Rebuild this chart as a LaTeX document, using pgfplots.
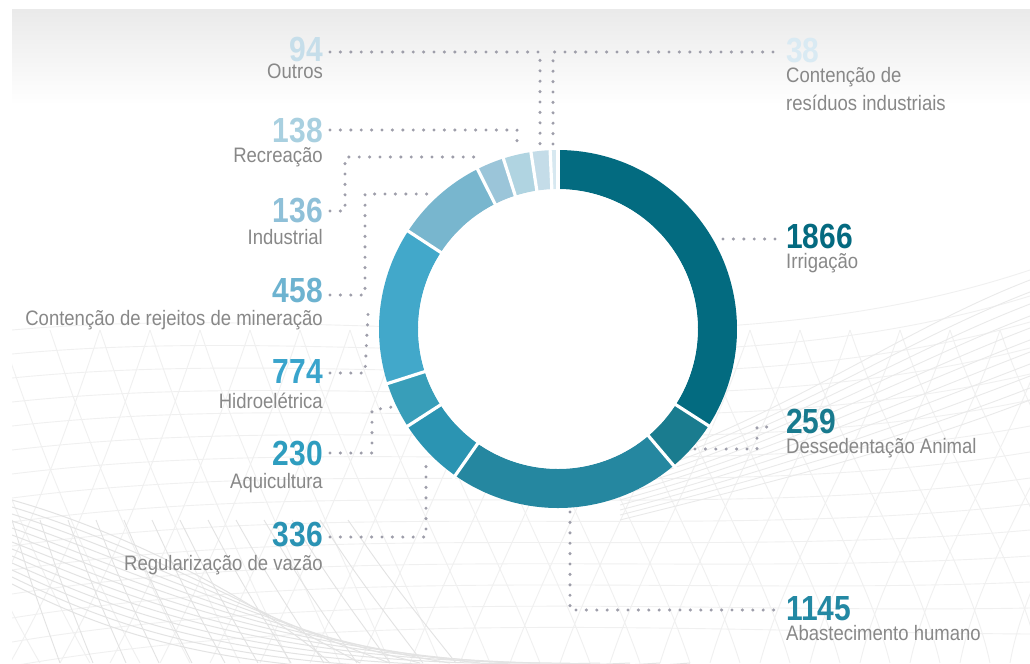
\documentclass[border=0pt]{standalone}
\usepackage{pgfplots}
\usepackage{pgfplotstable}
\pgfplotsset{compat=1.18}
\usepackage{fontspec}
\setmainfont{Liberation Sans}[FakeStretch=0.885]
\newfontfamily\numfont{Liberation Sans}[FakeStretch=0.86]

\definecolor{c1}{HTML}{036B80}
\definecolor{c2}{HTML}{1A7C8F}
\definecolor{c3}{HTML}{2587A0}
\definecolor{c4}{HTML}{2B94B2}
\definecolor{c5}{HTML}{389EB9}
\definecolor{c6}{HTML}{42A8CA}
\definecolor{c7}{HTML}{78B6CE}
\definecolor{c8}{HTML}{9BC5D9}
\definecolor{c9}{HTML}{B0D4E1}
\definecolor{c10}{HTML}{C4DCE8}
\definecolor{c11}{HTML}{D7E8F0}
\definecolor{n1}{HTML}{046A80}
\definecolor{n2}{HTML}{187A8E}
\definecolor{n3}{HTML}{2388A3}
\definecolor{n4}{HTML}{2A93B4}
\definecolor{n5}{HTML}{2E9DBF}
\definecolor{n6}{HTML}{39A4CC}
\definecolor{n7}{HTML}{6DB3D0}
\definecolor{n8}{HTML}{8FC0D8}
\definecolor{n9}{HTML}{A9D0E0}
\definecolor{n10}{HTML}{C6DEEA}
\definecolor{n11}{HTML}{D9EAF3}
\definecolor{lbl}{HTML}{888888}
\definecolor{ldot}{HTML}{9E9EAA}
\definecolor{bgtop}{HTML}{EAEAEA}
\definecolor{mesh}{HTML}{F0F0F0}
\definecolor{meshd}{HTML}{E3E3E3}
\definecolor{meshr}{HTML}{EAEAEA}

\tikzset{
  leader/.style={color=ldot, line width=3.4bp, line cap=round, dash pattern=on 0bp off 10.4bp, mark=none},
  num/.style={font=\numfont\bfseries\fontsize{35}{36}\selectfont, inner sep=0pt, text height=25bp, text depth=0pt},
  lab/.style={font=\fontsize{21}{24}\selectfont, color=lbl, inner sep=0pt, text height=15bp, text depth=3bp},
}

\pgfplotstableread[col sep=comma]{
label,value,color
Irrigação,1866,c1
Dessedentação Animal,259,c2
Abastecimento humano,1145,c3
Regularização de vazão,336,c4
Aquicultura,230,c5
Hidroelétrica,774,c6
Contenção de rejeitos de mineração,458,c7
Industrial,136,c8
Recreação,138,c9
Outros,94,c10
Contenção de resíduos industriais,38,c11
}\datatable

\pgfplotstablegetrowsof{\datatable}
\pgfmathtruncatemacro\nrows{\pgfplotsretval-1}
\def\total{0}
\pgfplotsforeachungrouped \i in {0,...,\nrows}{%
  \pgfplotstablegetelem{\i}{value}\of\datatable
  \pgfmathsetmacro\total{\total+\pgfplotsretval}%
  \global\let\total\total
}
\def\curang{90}
\pgfplotsforeachungrouped \i in {0,...,\nrows}{%
  \pgfplotstablegetelem{\i}{value}\of\datatable
  \pgfmathsetmacro\nextang{\curang-\pgfplotsretval/\total*360}%
  \expandafter\xdef\csname start\i\endcsname{\curang}%
  \expandafter\xdef\csname end\i\endcsname{\nextang}%
  \global\let\curang\nextang
}

\begin{document}
\begin{tikzpicture}
\begin{axis}[
  scale only axis, width=1030bp, height=663bp,
  xmin=0, xmax=1030, ymin=0, ymax=663, y dir=reverse,
  hide axis, clip=true,
]
% background
\fill[white] (axis cs:0,0) rectangle (axis cs:1030,663);
\shade[top color=bgtop, bottom color=white] (axis cs:12,10) rectangle (axis cs:1030,105);

% faint decorative mesh
\begin{scope}
\clip (axis cs:12,10) rectangle (axis cs:1030,663);
\pgfplotsinvokeforeach{0,...,14}{
  \draw[mesh, line width=0.9bp] (axis cs:12,{330+#1*24}) .. controls (axis cs:350,{300+#1*22}) and (axis cs:700,{380+#1*18}) .. (axis cs:1030,{270+#1*26});
}
\pgfplotsinvokeforeach{0,...,24}{
  \draw[mesh, line width=0.9bp] (axis cs:{-100+#1*50},330) .. controls (axis cs:{-60+#1*50},450) and (axis cs:{-20+#1*52},560) .. (axis cs:{40+#1*50},663);
  \draw[mesh, line width=0.9bp] (axis cs:{100+#1*50},330) .. controls (axis cs:{60+#1*50},450) and (axis cs:{20+#1*48},560) .. (axis cs:{-40+#1*50},663);
}
\pgfplotsinvokeforeach{0,...,12}{
  \draw[meshd, line width=1bp] (axis cs:12,{500+#1*7}) .. controls (axis cs:120,{530+#1*9}) and (axis cs:260,{600+#1*8}) .. (axis cs:{330+#1*30},663);
  \draw[meshd, line width=0.9bp] (axis cs:{12+#1*28},520) .. controls (axis cs:{30+#1*30},580) .. (axis cs:{60+#1*33},663);
}
\pgfplotsinvokeforeach{0,...,10}{
  \draw[meshr, line width=0.9bp] (axis cs:1030,{280+#1*12}) .. controls (axis cs:900,{330+#1*12}) and (axis cs:780,{420+#1*6}) .. (axis cs:620,{470+#1*5});
}
\end{scope}

% donut segments
\pgfplotsforeachungrouped \i in {0,...,\nrows}{%
  \pgfplotstablegetelem{\i}{color}\of\datatable
  \edef\cmd{\noexpand\addplot[draw=\pgfplotsretval, line width=39bp, domain=\csname end\i\endcsname:\csname start\i\endcsname, samples=100, no markers] ({558+159.5*cos(x)},{329-159.5*sin(x)});}%
  \cmd
}
% white gaps
\pgfplotsforeachungrouped \i in {0,...,\nrows}{%
  \edef\cmd{\noexpand\addplot[white, line width=3.2bp, domain=136:183, samples=2, no markers] ({558+x*cos(\csname start\i\endcsname)},{329-x*sin(\csname start\i\endcsname)});}%
  \cmd
}
% white centre
\fill[white] (axis cs:558,329) circle[radius=139.5bp];

% leader lines
\addplot[leader] coordinates {(330,52) (540,52) (540,145)};
\addplot[leader] coordinates {(773,52) (553,52) (553,145)};
\addplot[leader] coordinates {(330,130) (517,130) (517,148)};
\addplot[leader] coordinates {(330,211) (345,211) (345,157) (482,157)};
\addplot[leader] coordinates {(330,295) (365,295) (365,194) (433,194)};
\addplot[leader] coordinates {(330,373) (365,373) (368,314)};
\addplot[leader] coordinates {(330,453) (372,453) (372,410) (392,407)};
\addplot[leader] coordinates {(330,537) (426,537) (426,463)};
\addplot[leader] coordinates {(723,239) (778,239)};
\addplot[leader] coordinates {(695,449) (757,449) (757,427) (777,427)};
\addplot[leader] coordinates {(570,512) (570,610) (778,610)};

% left labels
\node[num, color=n10, anchor=base east] at (axis cs:323,62) {94};
\node[lab, anchor=base east] at (axis cs:323,79) {Outros};
\node[num, color=n9, anchor=base east] at (axis cs:323,142) {138};
\node[lab, anchor=base east] at (axis cs:323,162) {Recreação};
\node[num, color=n8, anchor=base east] at (axis cs:323,222) {136};
\node[lab, anchor=base east] at (axis cs:323,244) {Industrial};
\node[num, color=n7, anchor=base east] at (axis cs:323,302) {458};
\node[lab, anchor=base east] at (axis cs:323,325) {Contenção de rejeitos de mineração};
\node[num, color=n6, anchor=base east] at (axis cs:323,383) {774};
\node[lab, anchor=base east] at (axis cs:323,408) {Hidroelétrica};
\node[num, color=n5, anchor=base east] at (axis cs:323,465) {230};
\node[lab, anchor=base east] at (axis cs:323,488) {Aquicultura};
\node[num, color=n4, anchor=base east] at (axis cs:323,546) {336};
\node[lab, anchor=base east] at (axis cs:323,570) {Regularização de vazão};

% right labels
\node[num, color=n11, anchor=base west] at (axis cs:786,63) {38};
\node[lab, anchor=base west] at (axis cs:786,83) {Contenção de};
\node[lab, anchor=base west] at (axis cs:786,110) {resíduos industriais};
\node[num, color=n1, anchor=base west] at (axis cs:786,248) {1866};
\node[lab, anchor=base west] at (axis cs:786,268) {Irrigação};
\node[num, color=n2, anchor=base west] at (axis cs:786,433) {259};
\node[lab, anchor=base west] at (axis cs:786,453) {Dessedentação Animal};
\node[num, color=n3, anchor=base west] at (axis cs:786,620) {1145};
\node[lab, anchor=base west] at (axis cs:786,640) {Abastecimento humano};
\end{axis}
\end{tikzpicture}
\end{document}
